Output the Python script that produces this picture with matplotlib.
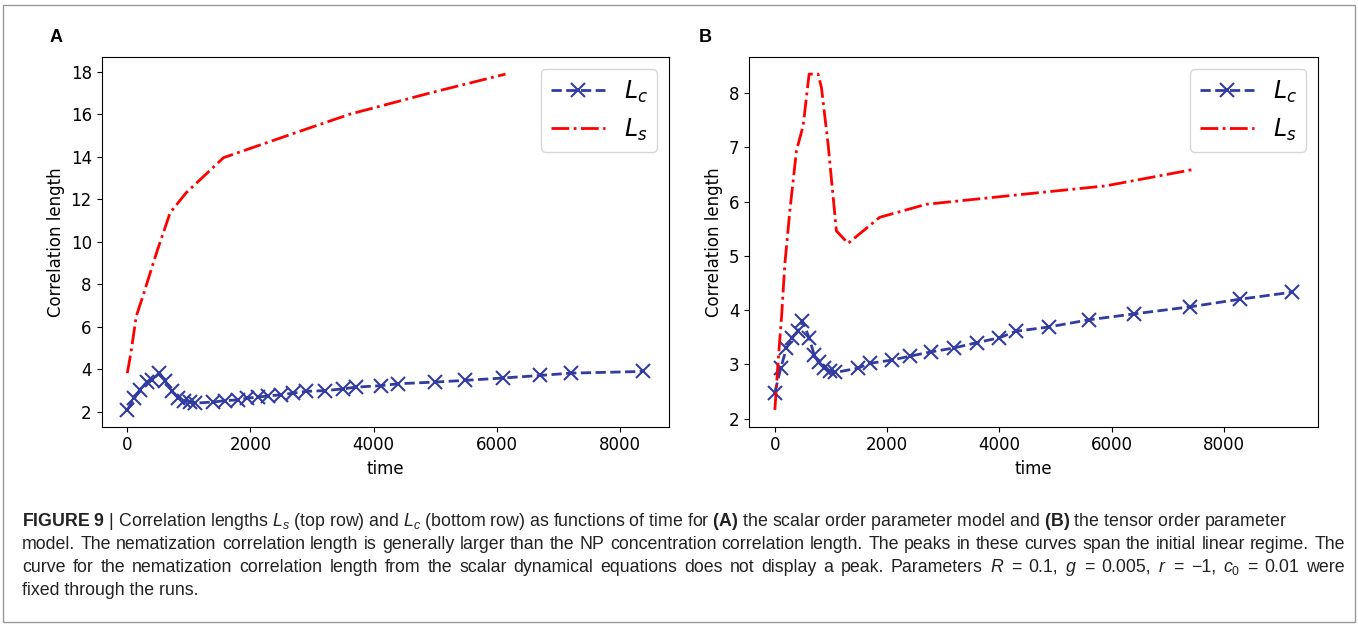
import matplotlib
matplotlib.use("Agg")
import matplotlib.pyplot as plt
from matplotlib.patches import Rectangle

# panel A: scalar order parameter model
a_lc_t = [0, 116, 203, 319, 406, 522, 609, 725, 829, 928, 1014, 1101, 1391, 1594,
          1797, 1942, 2116, 2290, 2493, 2696, 2899, 3217, 3507, 3710, 4116, 4400,
          5000, 5490, 6100, 6700, 7200, 8380]
a_lc = [2.08, 2.63, 3.02, 3.39, 3.50, 3.81, 3.46, 2.99, 2.63, 2.52, 2.47, 2.40, 2.45,
        2.52, 2.55, 2.63, 2.68, 2.74, 2.79, 2.87, 2.95, 2.99, 3.07, 3.15, 3.22, 3.31,
        3.39, 3.47, 3.58, 3.70, 3.81, 3.89]
a_ls_t = [0, 58, 145, 261, 406, 493, 696, 957, 1565, 2812, 3623, 4956, 6144]
a_ls = [3.81, 4.75, 6.48, 7.50, 8.84, 9.63, 11.36, 12.30, 13.95, 15.20, 16.00, 17.02, 17.88]

# panel B: tensor order parameter model
b_lc_t = [0, 107, 207, 308, 415, 492, 610, 699, 782, 871, 978, 1079, 1481, 1701,
          2092, 2400, 2785, 3182, 3597, 4000, 4296, 4889, 5588, 6400, 7396, 8279, 9214]
b_lc = [2.48, 2.94, 3.30, 3.49, 3.62, 3.80, 3.49, 3.18, 3.04, 2.94, 2.87, 2.85, 2.93,
        3.02, 3.08, 3.15, 3.23, 3.30, 3.40, 3.49, 3.61, 3.69, 3.82, 3.93, 4.06, 4.20, 4.33]
b_ls_t = [0, 59, 119, 178, 267, 385, 504, 610, 770, 830, 948, 1096, 1304, 1867, 2696,
          4474, 5896, 7496]
b_ls = [2.16, 3.07, 3.87, 4.85, 5.83, 6.94, 7.40, 8.35, 8.35, 8.10, 7.06, 5.46, 5.23,
        5.71, 5.95, 6.14, 6.29, 6.60]

caption = [
    r"$\mathbf{FIGURE\ 9}$ | Correlation lengths $L_s$ (top row) and $L_c$ (bottom row) as functions of time for $\mathbf{(A)}$ the scalar order parameter model and $\mathbf{(B)}$ the tensor order parameter",
    "model. The nematization correlation length is generally larger than the NP concentration correlation length. The peaks in these curves span the initial linear regime. The",
    r"curve for the nematization correlation length from the scalar dynamical equations does not display a peak. Parameters $R$ = 0.1, $g$ = 0.005, $r$ = −1, $c_0$ = 0.01 were",
    "fixed through the runs.",
]
justified = [False, True, True, False]

plt.rcParams['mathtext.rm'] = 'Liberation Sans'
plt.rcParams['mathtext.it'] = 'Liberation Sans:italic'
plt.rcParams['mathtext.bf'] = 'Liberation Sans:bold'

W, H = 1358, 625
fig = plt.figure(figsize=(W / 100, H / 100), dpi=100)

blue = '#323ca0'


def panel(rect, lc_t, lc, ls_t, ls, letter, letter_x):
    ax = fig.add_axes(rect)
    ax.plot(lc_t, lc, '--', color=blue, lw=2, marker='x', ms=10, mew=1.5, label=r'$L_c$')
    ax.plot(ls_t, ls, '-.', color='red', lw=2, label=r'$L_s$')
    ax.set_xlabel('time', fontsize=12)
    ax.set_ylabel('Correlation length', fontsize=12)
    ax.tick_params(labelsize=12)
    ax.set_xticks([0, 2000, 4000, 6000, 8000])
    ax.legend(loc='upper right', fontsize=17, handlelength=2.3)
    fig.text(letter_x / W, 1 - 38 / H, letter, fontsize=13, weight='bold',
             family='Liberation Sans', ha='center', va='center')
    return ax


axA = panel([101.5 / W, 1 - 426.7 / H, 567.5 / W, 369.4 / H],
            a_lc_t, a_lc, a_ls_t, a_ls, 'A', 56)
axB = panel([749 / W, 1 - 426.7 / H, 569 / W, 369.4 / H],
            b_lc_t, b_lc, b_ls_t, b_ls, 'B', 705)

cap_kw = dict(fontsize=12.8, color='#222222', family='Liberation Sans',
              math_fontfamily='custom', va='baseline')
x0, x1 = 22, 1345
renderer = fig.canvas.get_renderer()
for i, line in enumerate(caption):
    y = 1 - (526 + 23 * i) / H
    if not justified[i]:
        fig.text(x0 / W, y, line, **cap_kw)
        continue
    # spread the words so the line fills the column
    words = line.split(' ')
    texts = [fig.text(0, y, w, **cap_kw) for w in words]
    widths = [t.get_window_extent(renderer).width for t in texts]
    gap = (x1 - x0 - sum(widths)) / (len(words) - 1)
    x = x0
    for t, w in zip(texts, widths):
        t.set_x(x / W)
        x += w + gap

fig.patches.append(Rectangle((3 / W, 3 / H), 1 - 6 / W, 1 - 8 / H, transform=fig.transFigure,
                             fill=False, edgecolor='#999999', lw=1))

fig.savefig('out.png', dpi=100)
